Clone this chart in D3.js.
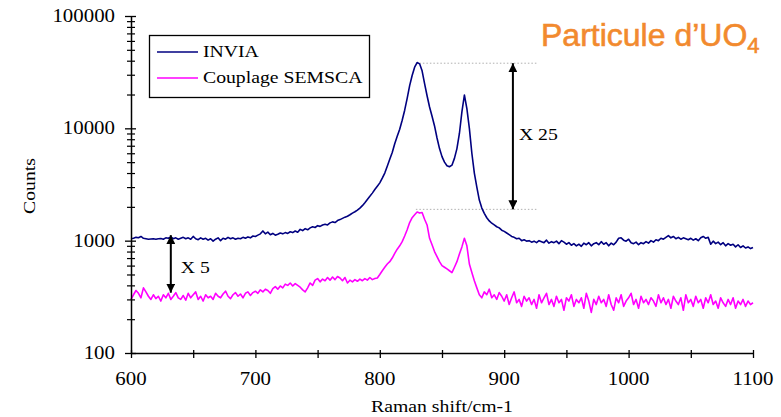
<!DOCTYPE html>
<html><head><meta charset="utf-8">
<script src="https://cdn.jsdelivr.net/npm/d3@7"></script>
<style>
html,body{margin:0;padding:0;background:#fff;}
svg{display:block;}
</style></head>
<body>
<svg id="chart" width="781" height="417"></svg>
<script>
// ---- data ----
const shiftStart = 600, shiftStep = 2;   // Raman shift of first sample, spacing (cm-1)
const inviaCounts = [
 1040,1050,1070,1060,1090,1050,1040,1030,1035,1040,
 1030,1040,1045,1030,1060,1050,1080,1040,1060,1030,
 1050,1070,1040,1060,1030,1090,1040,1020,1060,1030,
 1050,1010,1040,990,1030,1060,1000,1050,1030,1070,
 1040,1060,1030,1050,1040,1070,1050,1080,1060,1100,
 1090,1120,1150,1220,1150,1190,1130,1160,1120,1140,
 1170,1150,1180,1160,1200,1180,1220,1190,1260,1230,
 1280,1250,1300,1330,1310,1360,1340,1380,1400,1380,
 1440,1470,1450,1510,1540,1580,1620,1650,1700,1760,
 1810,1870,1950,2050,2180,2330,2480,2650,2850,3050,
 3270,3600,4000,4600,5300,6100,7300,8500,9800,11800,
 14500,18500,24000,29500,35000,38500,37500,32500,25000,19500,
 15500,12800,10500,8200,6600,5600,5000,4650,4550,4700,
 5400,6600,9000,14000,19800,15000,10000,6000,4000,3000,
 2300,1950,1750,1600,1500,1430,1380,1330,1300,1240,
 1210,1170,1130,1090,1070,1040,1050,1000,1020,990,
 1000,970,990,960,1000,980,960,1010,950,980,
 960,990,940,1000,970,930,960,910,940,900,
 930,890,950,920,960,900,940,960,920,980,
 930,960,900,950,920,970,1050,1060,1010,990,
 1030,960,940,970,920,960,940,980,950,1000,
 970,1020,1000,1050,1030,1070,1110,1060,1090,1040,
 1070,1030,1060,1040,1020,1050,1010,1040,1000,1060,
 1090,1050,1070,930,990,940,970,920,960,900,
 940,910,930,880,920,870,900,860,880,850,
 870
];
const semscaCounts = [
 300,330,360,340,310,380,350,320,300,330,
 305,320,290,330,310,340,300,320,345,310,
 300,325,295,340,310,330,350,300,320,290,
 330,310,320,300,340,320,310,335,355,320,
 305,330,345,320,335,310,340,350,325,345,
 355,340,365,350,370,360,340,375,390,370,
 395,380,410,400,420,395,415,400,385,365,
 350,380,420,400,445,460,430,455,440,470,
 445,475,450,480,465,440,470,420,445,430,
 450,435,455,440,460,445,470,450,460,465,
 500,540,580,620,650,700,770,840,900,980,
 1100,1250,1450,1600,1700,1800,1760,1780,1550,1380,
 1050,920,800,720,650,600,580,560,540,520,
 580,650,760,880,1050,900,620,520,440,380,
 330,310,350,330,370,310,330,300,345,320,
 290,330,270,310,350,280,300,260,320,290,
 310,270,300,250,330,280,310,340,270,300,
 260,320,280,300,240,310,290,330,260,300,
 280,310,250,340,290,230,300,270,320,280,
 300,260,330,270,240,310,280,330,260,290,
 310,340,270,300,250,320,280,300,270,310,
 290,260,330,280,310,270,300,250,320,290,
 270,310,240,330,280,300,260,320,280,300,
 250,310,280,330,270,290,250,310,280,260,
 300,270,310,250,290,270,300,260,290,270,
 280
];
const seriesNames = ["INVIA", "Couplage SEMSCA"];
const xTickValues = [600,650,700,750,800,850,900,950,1000,1050,1100];
const xTickLabels = [600,700,800,900,1000,1100];
const yTickLabels = [100,1000,10000,100000];
// annotations: ratio arrows
const ratioLabels = ["X 25", "X 5"];
const ratio25 = {x: 907, top: 38000, bottom: 1900, lineFrom: 829, lineTo: 926};
const ratio5  = {x: 632, top: 1120, bottom: 344};

// ---- layout ----
const svg = d3.select("#chart");
const L = 131, R = 753, T = 16, B = 353;
const x = d3.scaleLinear().domain([600,1100]).range([L,R]);
const y = d3.scaleLog().domain([100,100000]).range([B,T]);
const SX = 1.16;
const serif = "'Liberation Serif','Times New Roman',serif";

function stext(g, tx, ty, str, size, anchor, rot){
  return g.append("text")
    .attr("transform", `translate(${tx},${ty})` + (rot ? ` rotate(${rot})` : "") + ` scale(${SX},1)`)
    .attr("text-anchor", anchor || "start")
    .style("font-family", serif).style("font-size", size + "px").attr("fill","#000")
    .text(str);
}

const inviaData = inviaCounts.map((v,i)=>({s: shiftStart + i*shiftStep, v}));
const semscaData = semscaCounts.map((v,i)=>({s: shiftStart + i*shiftStep, v}));

// dotted guides
const gGuide = svg.append("g");
[ratio25.top, ratio25.bottom].forEach(v=>{
  gGuide.append("line")
    .attr("x1", x(ratio25.lineFrom)).attr("x2", x(ratio25.lineTo))
    .attr("y1", y(v)).attr("y2", y(v))
    .attr("stroke","#b0b0b0").attr("stroke-width",1).attr("stroke-dasharray","1.5,2");
});

// lines
const line = d3.line().x(d=>x(d.s)).y(d=>y(d.v));
svg.append("path").datum(semscaData).attr("d",line)
  .attr("fill","none").attr("stroke","#ff00ff").attr("stroke-width",1.6).attr("stroke-linejoin","round");
svg.append("path").datum(inviaData).attr("d",line)
  .attr("fill","none").attr("stroke","#000080").attr("stroke-width",1.6).attr("stroke-linejoin","round");

// axes
const xAxis = d3.axisBottom(x).tickValues(xTickValues).tickFormat("").tickSizeOuter(0);
const gx = svg.append("g").attr("transform",`translate(0,${B})`).call(xAxis);
gx.select(".domain").attr("stroke","#000").attr("stroke-width",1.5);
gx.selectAll(".tick line").attr("y1",-3).attr("y2",5).attr("stroke","#000").attr("stroke-width",1.3);

const yMinor = [];
for (let d = 100; d < 100000; d *= 10) for (let k = 2; k <= 9; k++) yMinor.push(d*k);
const yAxisMinor = d3.axisLeft(y).tickValues(yMinor).tickFormat("").tickSizeOuter(0);
const gyM = svg.append("g").attr("transform",`translate(${L},0)`).call(yAxisMinor);
gyM.select(".domain").remove();
gyM.selectAll(".tick line").attr("x1",-4).attr("x2",4).attr("stroke","#000").attr("stroke-width",1.2);
const yAxis = d3.axisLeft(y).tickValues(yTickLabels).tickFormat("").tickSizeOuter(0);
const gy = svg.append("g").attr("transform",`translate(${L},0)`).call(yAxis);
gy.select(".domain").attr("stroke","#000").attr("stroke-width",1.5);
gy.selectAll(".tick line").attr("x1",-6).attr("x2",5).attr("stroke","#000").attr("stroke-width",1.3);

// tick labels
const gLab = svg.append("g");
xTickLabels.forEach(v=> stext(gLab, x(v), 385, String(v), 18, "middle"));
yTickLabels.forEach(v=> stext(gLab, 115, y(v)+6, String(v), 18, "end"));

// axis titles
stext(svg, 442, 412, "Raman shift/cm-1", 17, "middle");
stext(svg, 35, 186, "Counts", 17, "middle", -90);

// arrows
const defs = svg.append("defs");
defs.append("marker").attr("id","ah").attr("viewBox","0 0 10 10").attr("refX",10).attr("refY",5)
  .attr("markerWidth",9).attr("markerHeight",9).attr("markerUnits","userSpaceOnUse").attr("orient","auto-start-reverse")
  .append("path").attr("d","M0,0 L10,5 L0,10 Z").attr("fill","#000");
[ratio25, ratio5].forEach((r,i)=>{
  svg.append("line").attr("x1",x(r.x)).attr("x2",x(r.x))
    .attr("y1",y(r.top)).attr("y2",y(r.bottom))
    .attr("stroke","#000").attr("stroke-width",2)
    .attr("marker-start","url(#ah)").attr("marker-end","url(#ah)");
});
stext(svg, x(ratio25.x)+6, 140, ratioLabels[0], 17, "start");
stext(svg, x(ratio5.x)+10, 273, ratioLabels[1], 17, "start");

// legend
const gL = svg.append("g");
gL.append("rect").attr("x",149.5).attr("y",35.5).attr("width",220).attr("height",62)
  .attr("fill","#fff").attr("stroke","#000").attr("stroke-width",1.3);
const legColors = ["#000080","#ff00ff"];
seriesNames.forEach((n,i)=>{
  const ly = 52 + i*26;
  gL.append("line").attr("x1",157).attr("x2",198).attr("y1",ly).attr("y2",ly)
    .attr("stroke",legColors[i]).attr("stroke-width",1.5);
  stext(gL, 203, ly+5, n, 17, "start");
});

// title
const title = svg.append("text").attr("transform","translate(541,46)")
  .style("font-family","'Liberation Sans',Arial,sans-serif").style("font-size","32px")
  .attr("fill","#f28a2e").attr("stroke","#f28a2e").attr("stroke-width",0.6);
title.append("tspan").text("Particule d\u2019UO");
title.append("tspan").attr("dy",7).style("font-size","22px").text("4");
</script>
</body></html>
